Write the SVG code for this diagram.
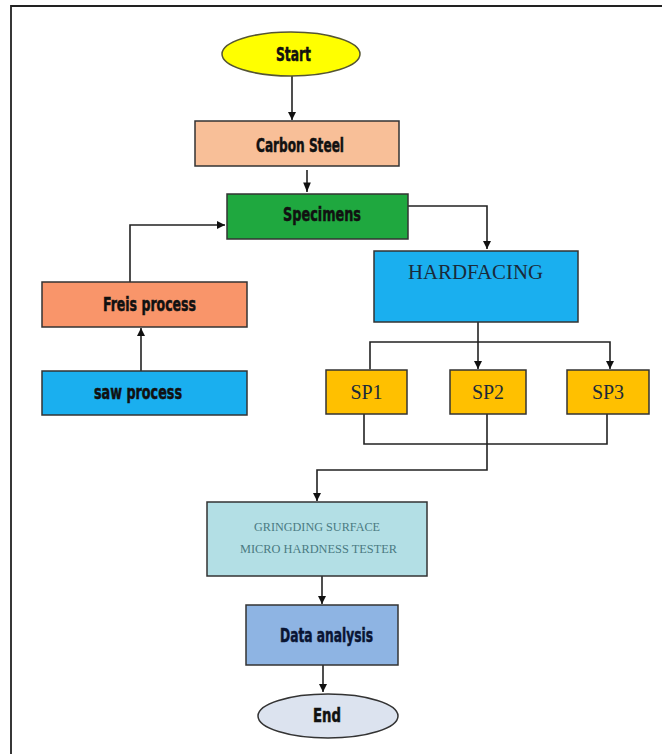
<svg xmlns="http://www.w3.org/2000/svg" width="662" height="754" viewBox="0 0 662 754">
<defs>
<marker id="ah" viewBox="0 0 10 10" refX="10" refY="5" markerWidth="5" markerHeight="5" orient="auto" markerUnits="strokeWidth"><path d="M0,0 L10,5 L0,10 z" fill="#111"/></marker>
<marker id="ahs" viewBox="0 0 10 10" refX="10" refY="5" markerWidth="6" markerHeight="6" orient="auto" markerUnits="strokeWidth"><path d="M0,1 L10,5 L0,9 z" fill="#111"/></marker>
</defs>
<style>
.box{stroke:#333;stroke-width:1.5}
.bt{font-family:"DejaVu Sans Condensed","Liberation Sans Narrow","Liberation Sans",sans-serif;font-weight:bold;font-size:19px;fill:#111;stroke:#111;stroke-width:0.5;text-anchor:middle;dominant-baseline:central}
.st{font-family:"Liberation Serif","DejaVu Serif",serif;font-size:20px;fill:#1a2a3a;text-anchor:middle;dominant-baseline:central}
.sm{font-family:"Liberation Serif","DejaVu Serif",serif;font-size:12px;fill:#4a7a82;text-anchor:middle;dominant-baseline:central}
.cn{fill:none;stroke:#222;stroke-width:1.6}
</style>
<rect x="0" y="0" width="662" height="754" fill="#fff"/>
<path d="M11,754 V6 H662" fill="none" stroke="#222" stroke-width="1.8"/>
<g id="connectors">
<path class="cn" d="M292,76 V120" marker-end="url(#ah)"/>
<path class="cn" d="M307,170 V192" stroke-width="0.9" marker-end="url(#ahs)"/>
<path class="cn" d="M408,206 H487 V249" marker-end="url(#ah)"/>
<path class="cn" d="M130,282 V225 H225" marker-end="url(#ah)"/>
<path class="cn" d="M141,371 V328" marker-end="url(#ah)"/>
<path class="cn" d="M478,322 V369" marker-end="url(#ah)"/>
<path class="cn" d="M370,369 V342 H610 V369" marker-start="url(#ah)" marker-end="url(#ah)"/>
<path class="cn" d="M364,414 V444 H607 V414"/>
<path class="cn" d="M487,414 V470 H317 V501" marker-end="url(#ah)"/>
<path class="cn" d="M322,576 V604" marker-end="url(#ah)"/>
<path class="cn" d="M323,665 V692" marker-end="url(#ah)"/>
</g>
<g id="start"><ellipse cx="291" cy="54" rx="69" ry="22" fill="#ffff00" stroke="#555533" stroke-width="1.5"/><text class="bt" x="293.5" y="54" textLength="35" lengthAdjust="spacingAndGlyphs">Start</text></g>
<g id="carbon-steel"><rect x="195" y="121" width="204" height="45" fill="#f8bf98" class="box"/><text class="bt" x="300" y="145" textLength="88" lengthAdjust="spacingAndGlyphs">Carbon Steel</text></g>
<g id="specimens"><rect x="227" y="194" width="181" height="45" fill="#1fa83f" class="box"/><text class="bt" x="322" y="214" textLength="78" lengthAdjust="spacingAndGlyphs">Specimens</text></g>
<g id="hardfacing"><rect x="374" y="251" width="204" height="71" fill="#1aafef" class="box"/><text class="st" x="475.5" y="272" textLength="135" lengthAdjust="spacingAndGlyphs">HARDFACING</text></g>
<g id="freis"><rect x="42" y="282" width="205" height="45" fill="#f9956a" class="box"/><text class="bt" x="149.5" y="304" textLength="93" lengthAdjust="spacingAndGlyphs">Freis process</text></g>
<g id="saw"><rect x="42" y="371" width="205" height="44" fill="#1aafef" class="box"/><text class="bt" x="138" y="392" textLength="88" lengthAdjust="spacingAndGlyphs">saw process</text></g>
<g id="sp1"><rect x="326" y="370" width="81" height="44" fill="#ffc000" class="box"/><text class="st" x="366.5" y="392">SP1</text></g>
<g id="sp2"><rect x="450" y="370" width="76" height="44" fill="#ffc000" class="box"/><text class="st" x="488" y="392">SP2</text></g>
<g id="sp3"><rect x="567" y="370" width="82" height="44" fill="#ffc000" class="box"/><text class="st" x="608" y="392">SP3</text></g>
<g id="grinding"><rect x="207" y="502" width="220" height="74" fill="#b3dfe5" class="box"/><text class="sm" x="317" y="527" textLength="126" lengthAdjust="spacingAndGlyphs">GRINGDING SURFACE</text><text class="sm" x="318.5" y="549" textLength="157" lengthAdjust="spacingAndGlyphs">MICRO HARDNESS TESTER</text></g>
<g id="data-analysis"><rect x="246" y="605" width="152" height="60" fill="#8eb4e3" class="box"/><text class="bt" x="326.5" y="635" style="fill:#0a1533;stroke:#0a1533" textLength="93" lengthAdjust="spacingAndGlyphs">Data analysis</text></g>
<g id="end"><ellipse cx="328" cy="716" rx="70" ry="22" fill="#dce3ef" class="box"/><text class="bt" x="327" y="715" textLength="28" lengthAdjust="spacingAndGlyphs">End</text></g>
</svg>
